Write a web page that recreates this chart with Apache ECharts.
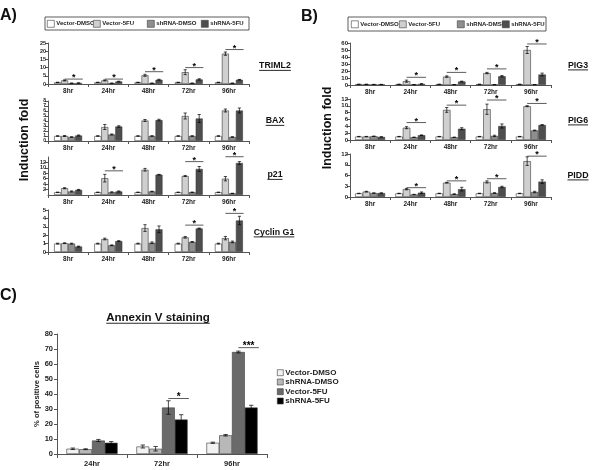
<!DOCTYPE html>
<html><head><meta charset="utf-8">
<script src="https://cdn.jsdelivr.net/npm/echarts@6/dist/echarts.min.js"></script>
<style>html,body{margin:0;padding:0;background:#fff}#c{width:600px;height:470px}</style>
</head><body><div id="c"></div>
<script>
// ---------- DATA ----------
const timesAB = ['8hr', '24hr', '48hr', '72hr', '96hr'];
const timesC = ['24hr', '72hr', '96hr'];
const seriesAB = ['Vector-DMSO', 'Vector-5FU', 'shRNA-DMSO', 'shRNA-5FU'];
const seriesC = ['Vector-DMSO', 'shRNA-DMSO', 'Vector-5FU', 'shRNA-5FU'];

// rows follow seriesAB order, columns follow timesAB
const triml2Mean = [[1, 1, 1, 1, 1], [2.2, 2.2, 5.3, 7.2, 18.5], [0.5, 0.5, 0.5, 0.5, 0.5], [0.6, 1.5, 2.6, 2.8, 2.6]];
const triml2Err  = [[0.1, 0.1, 0.1, 0.1, 0.1], [0.3, 0.3, 0.6, 1.5, 1.0], [0.05, 0.05, 0.05, 0.05, 0.05], [0.1, 0.2, 0.3, 0.4, 0.2]];
const triml2Sig  = [3, 3, 7.5, 10, 21];
const triml2Ticks = [0, 5, 10, 15, 20, 25];

const baxMean = [[1, 1, 1, 1, 1], [1, 2.8, 4.1, 5, 6.1], [0.8, 1.3, 1, 1, 0.8], [1.1, 2.9, 4.2, 4.5, 6.1]];
const baxErr  = [[0.05, 0.05, 0.05, 0.05, 0.05], [0.1, 0.5, 0.2, 0.6, 0.3], [0.05, 0.1, 0.05, 0.05, 0.05], [0.1, 0.15, 0.15, 0.8, 0.5]];
const baxSig  = [null, null, null, null, null];
const baxTicks = [0, 1, 2, 3, 4, 5, 6, 7, 8];

const p21Mean = [[1, 1, 1, 1, 1], [2.5, 6.2, 9.3, 7, 6], [1.3, 1, 1.3, 1, 0.6], [1.9, 1.3, 7.5, 9.6, 11.8]];
const p21Err  = [[0.05, 0.05, 0.05, 0.05, 0.05], [0.2, 1.4, 0.5, 0.2, 0.8], [0.2, 0.2, 0.1, 0.1, 0.05], [0.15, 0.2, 0.1, 0.9, 0.5]];
const p21Sig  = [null, 8.9, null, 12.3, 14.1];
const p21Ticks = [0, 2, 4, 6, 8, 10, 12, 14];

const cyclinG1Mean = [[1, 1, 1, 1, 1], [1.05, 1.55, 2.85, 1.75, 1.65], [1, 0.8, 1.1, 1.2, 1.2], [0.65, 1.3, 2.7, 2.8, 3.75]];
const cyclinG1Err  = [[0.05, 0.05, 0.05, 0.05, 0.05], [0.05, 0.1, 0.4, 0.1, 0.2], [0.05, 0.05, 0.1, 0.05, 0.1], [0.05, 0.05, 0.4, 0.05, 0.5]];
const cyclinG1Sig  = [null, null, null, 3.2, 4.6];
const cyclinG1Ticks = [0, 1, 2, 3, 4, 5];

const pig3Mean = [[1, 1, 1, 1, 1], [1, 5.5, 12, 17, 50], [0.8, 0.5, 0.5, 0.5, 0.5], [0.8, 1.5, 5, 12.5, 15]];
const pig3Err  = [[0.1, 0.1, 0.1, 0.1, 0.1], [0.2, 1.5, 1, 1, 5], [0.1, 0.1, 0.1, 0.1, 0.1], [0.1, 0.5, 0.5, 1, 2]];
const pig3Sig  = [null, 11, 18, 23, 58.6];
const pig3Ticks = [0, 10, 20, 30, 40, 50, 60];

const pig6Mean = [[1, 1, 1, 1, 1], [1, 3.6, 8.8, 9, 9.9], [1.1, 0.8, 0.8, 1.2, 2.8], [0.9, 1.4, 3.3, 4.1, 4.4]];
const pig6Err  = [[0.05, 0.05, 0.05, 0.05, 0.05], [0.05, 0.3, 0.7, 1.5, 0.15], [0.05, 0.05, 0.05, 0.2, 0.1], [0.05, 0.1, 0.3, 0.6, 0.1]];
const pig6Sig  = [null, 5.1, 10.2, 11.7, 10.7];
const pig6Ticks = [0, 2, 4, 6, 8, 10, 12];

const piddMean = [[1, 1, 1, 1, 1], [1.5, 2.2, 4, 4.2, 10], [1.1, 0.7, 0.8, 1.1, 1.4], [1.1, 1.2, 2.2, 2.8, 4.3]];
const piddErr  = [[0.05, 0.05, 0.05, 0.05, 0.05], [0.1, 0.2, 0.1, 0.3, 1.2], [0.05, 0.05, 0.1, 0.1, 0.2], [0.05, 0.2, 0.5, 0.2, 0.5]];
const piddSig  = [null, 2.6, 4.5, 5.1, 11.4];
const piddTicks = [0, 3, 6, 9, 12];

// rows follow seriesC order, columns follow timesC
const annexinMean = [[3.5, 5, 7.5], [3.2, 3.5, 12.5], [9, 31, 68], [7.5, 23, 31]];
const annexinErr  = [[0.5, 1, 0.4], [0.3, 1.5, 0.5], [0.7, 4.5, 0.6], [0.8, 3.2, 1.5]];
const annexinSig  = [null, 37, 70.9];
const annexinSigText = [null, '*', '***'];
const annexinTicks = [0, 10, 20, 30, 40, 50, 60, 70, 80];

// ---------- STYLE / LAYOUT ----------
const FONT = '"Liberation Sans", Arial, sans-serif';
const colorsAB = ['#ffffff', '#cfcfcf', '#8e8e8e', '#4e4e4e'];
const colorsC = ['#f2f2f2', '#b8b8b8', '#6a6a6a', '#000000'];

const panels = [
  {label: 'TRIML2', cats: timesAB, names: seriesAB, mean: triml2Mean, err: triml2Err, sig: triml2Sig, ticks: triml2Ticks, colors: colorsAB,
   left: 48, top: 43, width: 201, height: 41, bw: 7, yFont: 5.5, xFont: 6.5, lab: [275, 66], sigFrom: 1, sigTo: 3},
  {label: 'BAX', cats: timesAB, names: seriesAB, mean: baxMean, err: baxErr, sig: baxSig, ticks: baxTicks, colors: colorsAB,
   left: 48, top: 101, width: 201, height: 40, bw: 7, yFont: 5, xFont: 6.5, lab: [275, 121], sigFrom: 1, sigTo: 3},
  {label: 'p21', cats: timesAB, names: seriesAB, mean: p21Mean, err: p21Err, sig: p21Sig, ticks: p21Ticks, colors: colorsAB,
   left: 48, top: 157, width: 201, height: 38, bw: 7, yFont: 5.5, xFont: 6.5, lab: [275, 175], sigFrom: 1, sigTo: 3},
  {label: 'Cyclin G1', cats: timesAB, names: seriesAB, mean: cyclinG1Mean, err: cyclinG1Err, sig: cyclinG1Sig, ticks: cyclinG1Ticks, colors: colorsAB,
   left: 48, top: 210, width: 201, height: 42, bw: 7, yFont: 6, xFont: 6.5, lab: [274, 232.5], sigFrom: 1, sigTo: 3},
  {label: 'PIG3', cats: timesAB, names: seriesAB, mean: pig3Mean, err: pig3Err, sig: pig3Sig, ticks: pig3Ticks, colors: colorsAB,
   left: 350, top: 43, width: 201, height: 42, bw: 7.5, yFont: 6, xFont: 6.5, lab: [578, 65.5], sigFrom: 1, sigTo: 3},
  {label: 'PIG6', cats: timesAB, names: seriesAB, mean: pig6Mean, err: pig6Err, sig: pig6Sig, ticks: pig6Ticks, colors: colorsAB,
   left: 350, top: 99, width: 201, height: 41, bw: 7.5, yFont: 6, xFont: 6.5, lab: [578, 120.5], sigFrom: 1, sigTo: 3},
  {label: 'PIDD', cats: timesAB, names: seriesAB, mean: piddMean, err: piddErr, sig: piddSig, ticks: piddTicks, colors: colorsAB,
   left: 350, top: 154, width: 201, height: 43, bw: 7.5, yFont: 6, xFont: 6.5, lab: [578, 175.5], sigFrom: 1, sigTo: 3},
  {label: null, cats: timesC, names: seriesC, mean: annexinMean, err: annexinErr, sig: annexinSig, sigText: annexinSigText, ticks: annexinTicks, colors: colorsC,
   left: 57, top: 334, width: 210, height: 120, bw: 12.8, yFont: 7.5, xFont: 7.5, sigFrom: 2, sigTo: 3, big: true}
];

function errSeries(p, gi) {
  const data = [];
  const n = p.names.length;
  for (let s = 0; s < n; s++) for (let c = 0; c < p.cats.length; c++) data.push([c, p.mean[s][c], p.err[s][c], s]);
  return {
    type: 'custom', name: 'err' + gi, xAxisIndex: gi, yAxisIndex: gi, z: 5, silent: true, clip: false,
    encode: {x: 0, y: 1}, data,
    renderItem: function (params, api) {
      const c = api.value(0), m = api.value(1), e = api.value(2), s = api.value(3);
      const base = api.coord([c, m]);
      const x = base[0] + (s - (n - 1) / 2) * p.bw;
      const yT = api.coord([c, m + e])[1];
      const yB = api.coord([c, Math.max(0, m - e)])[1];
      const cap = p.big ? 2.2 : 1.6;
      const st = {stroke: '#000', lineWidth: 0.7};
      return {type: 'group', children: [
        {type: 'line', shape: {x1: x, y1: yT, x2: x, y2: yB}, style: st},
        {type: 'line', shape: {x1: x - cap, y1: yT, x2: x + cap, y2: yT}, style: st},
        {type: 'line', shape: {x1: x - cap, y1: yB, x2: x + cap, y2: yB}, style: st}
      ]};
    }
  };
}

function sigSeries(p, gi) {
  const data = [];
  const n = p.names.length;
  p.sig.forEach((v, c) => { if (v != null) data.push([c, v]); });
  return {
    type: 'custom', name: 'sig' + gi, xAxisIndex: gi, yAxisIndex: gi, z: 6, silent: true, clip: false,
    encode: {x: 0, y: 1}, data,
    renderItem: function (params, api) {
      const c = api.value(0), v = api.value(1);
      const pt = api.coord([c, v]);
      const x1 = pt[0] + (p.sigFrom - (n - 1) / 2) * p.bw;
      const x2 = pt[0] + (p.sigTo - (n - 1) / 2) * p.bw + 0.6 * p.bw;
      const txt = p.sigText ? p.sigText[c] : '*';
      const fs = p.big ? 10 : 9;
      return {type: 'group', children: [
        {type: 'line', shape: {x1: x1, y1: pt[1], x2: x2, y2: pt[1]}, style: {stroke: '#333', lineWidth: 0.8}},
        {type: 'text', x: (x1 + x2) / 2, y: pt[1] - 1.5,
         style: {text: txt, fill: '#000', font: 'bold ' + fs + 'px ' + FONT, align: 'center', verticalAlign: 'middle', textAlign: 'center', textVerticalAlign: 'middle'}}
      ]};
    }
  };
}

const grid = [], xAxis = [], yAxis = [], series = [];
panels.forEach((p, gi) => {
  grid.push({left: p.left, top: p.top, width: p.width, height: p.height, containLabel: false});
  xAxis.push({
    type: 'category', gridIndex: gi, data: p.cats,
    axisLine: {show: true, lineStyle: {color: '#555', width: 1}},
    axisTick: {show: true, length: p.big ? 4 : 3, lineStyle: {color: '#555', width: 1}},
    axisLabel: {fontSize: p.xFont, fontWeight: 'bold', color: '#222', margin: p.big ? 6 : 4, fontFamily: FONT},
    splitLine: {show: false}
  });
  const y = {
    type: 'value', gridIndex: gi, min: p.ticks[0], max: p.ticks[p.ticks.length - 1], interval: p.ticks[1] - p.ticks[0],
    axisLine: {show: true, lineStyle: {color: '#555', width: 1}},
    axisTick: {show: true, length: 3, lineStyle: {color: '#555', width: 1}},
    axisLabel: {fontSize: p.yFont, fontWeight: 'bold', color: '#222', margin: p.big ? 4 : 2, fontFamily: FONT},
    splitLine: {show: false}
  };
  if (p.big) {
    y.name = '% of positive cells';
    y.nameLocation = 'middle';
    y.nameGap = 16;
    y.nameTextStyle = {fontSize: 7.6, fontWeight: 'bold', color: '#222', fontFamily: FONT};
  }
  yAxis.push(y);
  p.names.forEach((nm, si) => {
    series.push({
      type: 'bar', name: nm, xAxisIndex: gi, yAxisIndex: gi, data: p.mean[si],
      barWidth: p.bw, barGap: '0%',
      itemStyle: {color: p.colors[si], borderColor: '#3a3a3a', borderWidth: 0.6},
      emphasis: {disabled: true}
    });
  });
  series.push(errSeries(p, gi));
  if (p.sig.some(v => v != null)) series.push(sigSeries(p, gi));
});

// legends
const legendAX = [47, 93, 147, 201];
const legendBX = [351, 399, 457, 502];
const legendCY = [371.7, 381, 390.7, 400];
const legend = [];
function legendItem(name, color, left, top, fs, size) {
  return {
    data: [{name: name, icon: 'rect', itemStyle: {color: color, borderColor: '#3a3a3a', borderWidth: 0.6}}],
    left: left, top: top, padding: 0, itemWidth: size, itemHeight: size, selectedMode: false, orient: 'horizontal',
    textStyle: {fontSize: fs, fontWeight: 'bold', color: '#222', fontFamily: FONT, padding: [0, 0, 0, -3]}
  };
}
seriesAB.forEach((nm, i) => legend.push(legendItem(nm, colorsAB[i], legendAX[i], 20, 6, 7)));
seriesAB.forEach((nm, i) => legend.push(legendItem(nm, colorsAB[i], legendBX[i], 20.5, 6, 7)));
seriesC.forEach((nm, i) => legend.push(legendItem(nm, colorsC[i], 277, legendCY[i] - 3, 8, 6)));

// texts
const mctx = document.createElement('canvas').getContext('2d');
function tw(text, font) { mctx.font = font; return mctx.measureText(text).width; }
const graphic = [];
function txt(x, y, text, fs, opts) {
  return Object.assign({type: 'text', x: x, y: y, silent: true,
    style: {text: text, fill: '#111', font: 'bold ' + fs + 'px ' + FONT, align: 'left', verticalAlign: 'top', textAlign: 'left', textVerticalAlign: 'top'}}, opts || {});
}
graphic.push(txt(0, 8, 'A)', 16));
graphic.push(txt(301, 9, 'B)', 16));
graphic.push(txt(0, 288, 'C)', 16));
graphic.push({type: 'rect', shape: {x: 45, y: 17, width: 204, height: 13}, style: {fill: 'none', stroke: '#333', lineWidth: 0.8}, silent: true});
graphic.push({type: 'rect', shape: {x: 348, y: 17, width: 198, height: 14}, style: {fill: 'none', stroke: '#333', lineWidth: 0.8}, silent: true});

function rotText(cx, cy, text, fs, sx) {
  return {type: 'text', x: cx, y: cy, rotation: Math.PI / 2, scaleX: sx, silent: true,
    style: {text: text, fill: '#111', font: 'bold ' + fs + 'px ' + FONT, align: 'center', verticalAlign: 'middle', textAlign: 'center', textVerticalAlign: 'middle'}};
}
graphic.push(rotText(25, 140, 'Induction fold', 12.5, 1));
graphic.push(rotText(328, 128, 'Induction fold', 12.5, 1));

function underlined(cx, cy, text, fs) {
  const f = 'bold ' + fs + 'px ' + FONT;
  const w = tw(text, f);
  graphic.push({type: 'text', x: cx, y: cy, silent: true,
    style: {text: text, fill: '#111', font: f, align: 'center', verticalAlign: 'middle', textAlign: 'center', textVerticalAlign: 'middle'}});
  graphic.push({type: 'line', silent: true, shape: {x1: cx - w / 2, y1: cy + fs * 0.5, x2: cx + w / 2, y2: cy + fs * 0.5}, style: {stroke: '#111', lineWidth: 0.9}});
}
panels.forEach(p => { if (p.label) underlined(p.lab[0], p.lab[1], p.label, 8.8); });
underlined(158, 317.5, 'Annexin V staining', 11.5);

const chart = echarts.init(document.getElementById('c'), null, {renderer: 'canvas'});
chart.setOption({
  animation: false,
  backgroundColor: '#fff',
  textStyle: {fontFamily: FONT},
  grid, xAxis, yAxis, series, legend, graphic
});
</script></body></html>
